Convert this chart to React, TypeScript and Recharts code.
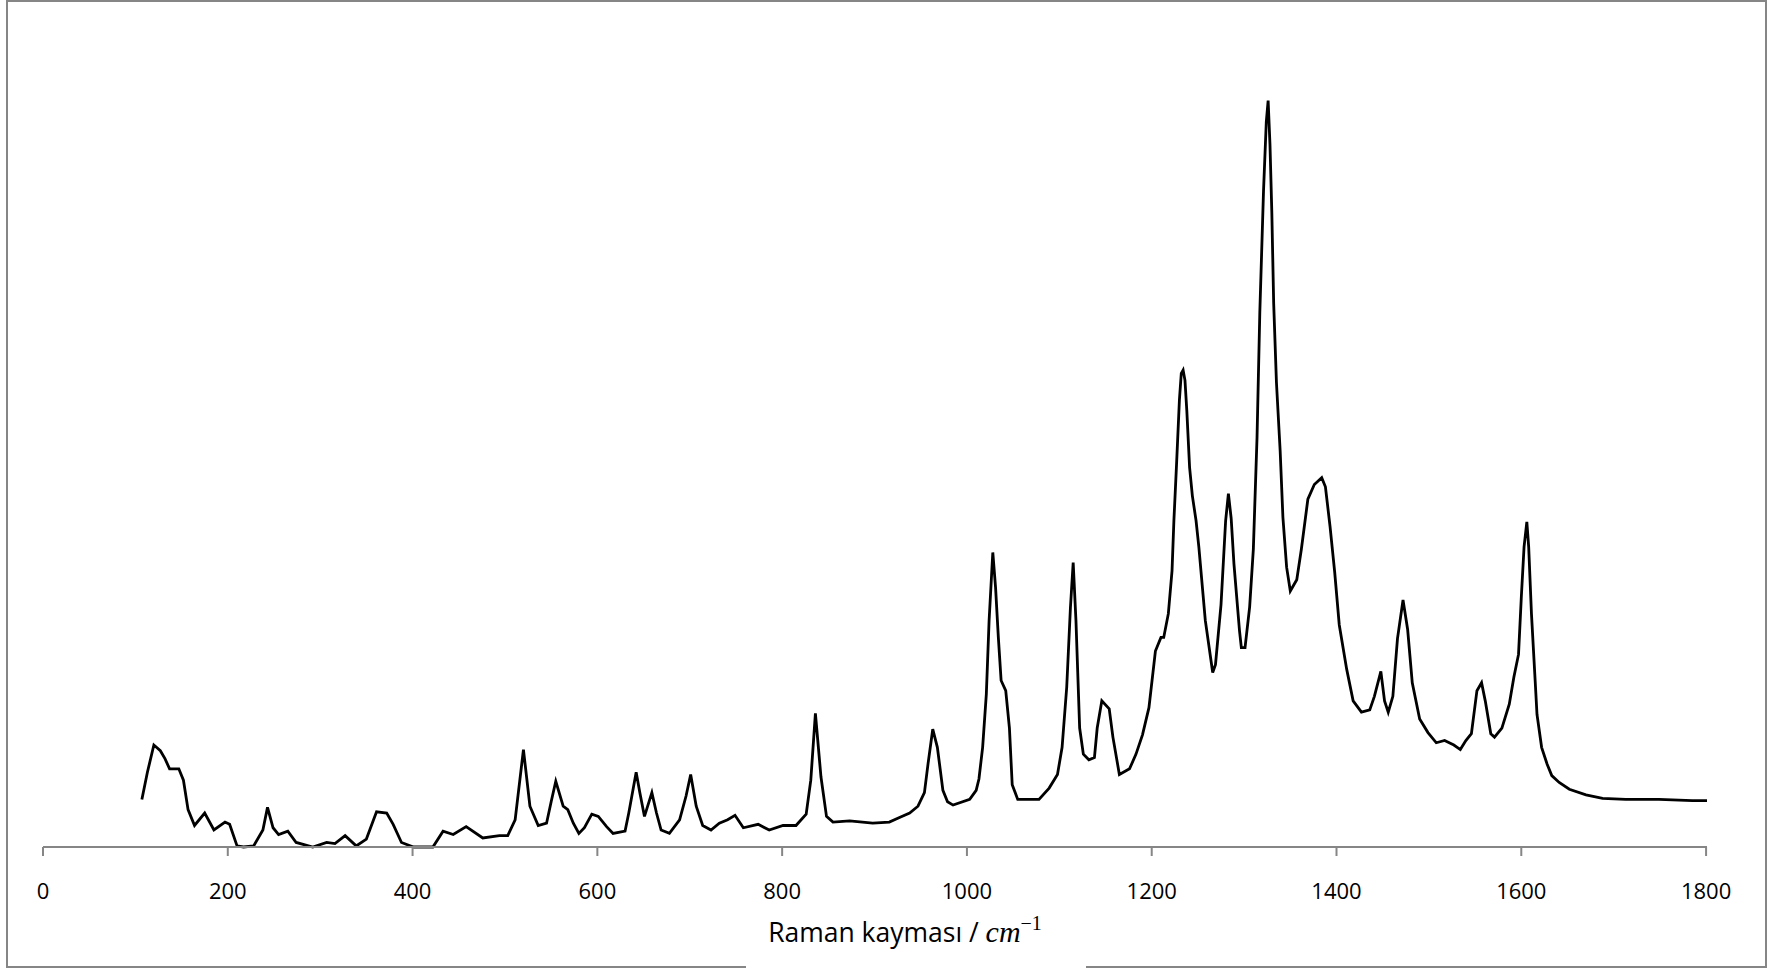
import { LineChart, Line, XAxis, YAxis } from 'recharts'

// Raman shift (cm^-1)
const shift = [
	107, 113, 120, 127, 132, 137, 147, 152, 157, 164, 175, 185, 197, 202, 210, 217, 228, 238, 243, 249,
	255, 265, 274, 292, 307, 316, 327, 339, 350, 361, 372, 379, 388, 401, 413, 422, 433, 444, 458, 476,
	494, 503, 511, 520, 527, 536, 545, 550, 555, 563, 568, 574, 580, 586, 594, 601, 610, 617, 630, 634,
	642, 646, 651, 659, 664, 669, 678, 689, 696, 701, 707, 714, 723, 732, 741, 749, 758, 774, 786, 801,
	815, 826, 831, 836, 842, 848, 855, 873, 898, 916, 927, 938, 947, 954, 958, 963, 968, 974, 979, 985,
	1003, 1010, 1013, 1017, 1021, 1024, 1028, 1031, 1034, 1037, 1042, 1046, 1049, 1055, 1064, 1078, 1089, 1098, 1103, 1108,
	1112, 1115, 1118, 1122, 1126, 1132, 1138, 1141, 1146, 1154, 1158, 1165, 1176, 1183, 1190, 1197, 1204, 1210, 1213, 1218,
	1222, 1224, 1227, 1230, 1232, 1234, 1236, 1238, 1241, 1244, 1248, 1251, 1258, 1266, 1269, 1275, 1280, 1283, 1286, 1289,
	1295, 1297, 1301, 1306, 1310, 1314, 1317, 1321, 1324, 1326, 1328, 1330, 1332, 1335, 1339, 1342, 1346, 1350, 1357, 1362,
	1369, 1376, 1384, 1388, 1393, 1398, 1403, 1411, 1418, 1427, 1436, 1441, 1448, 1452, 1456, 1461, 1466, 1472, 1477, 1482,
	1490, 1499, 1508, 1517, 1527, 1534, 1540, 1546, 1552, 1557, 1561, 1567, 1571, 1579, 1587, 1592, 1597, 1600, 1603, 1606,
	1608, 1611, 1615, 1617, 1622, 1628, 1633, 1641, 1652, 1670, 1688, 1713, 1749, 1785, 1801,
]

// intensity, arbitrary units (baseline at 0)
const intensity = [
	42, 66, 90, 85, 78, 69, 69, 59, 33, 19, 30, 15, 22, 20, 1, 0, 1, 15, 35, 17,
	11, 14, 4, 0, 4, 3, 10, 1, 7, 31, 30, 20, 4, 0, 0, 0, 14, 11, 18, 8,
	10, 10, 24, 86, 36, 19, 21, 40, 58, 36, 33, 21, 12, 17, 29, 27, 18, 12, 14, 30,
	66, 48, 27, 48, 30, 15, 12, 24, 45, 64, 36, 19, 15, 21, 24, 28, 17, 20, 15, 19,
	19, 29, 59, 118, 62, 27, 22, 23, 21, 22, 26, 30, 36, 48, 74, 104, 88, 50, 40, 37,
	42, 50, 60, 88, 135, 200, 260, 229, 185, 147, 138, 105, 55, 42, 42, 42, 52, 64, 88, 141,
	211, 251, 200, 105, 82, 77, 79, 105, 129, 122, 97, 64, 69, 82, 99, 123, 173, 185, 185, 206,
	244, 288, 340, 395, 418, 421, 412, 385, 335, 310, 288, 265, 200, 154, 161, 214, 288, 312, 290, 250,
	191, 176, 176, 212, 263, 362, 472, 579, 640, 659, 620, 560, 480, 410, 350, 291, 247, 226, 236, 263,
	307, 320, 326, 318, 283, 243, 196, 157, 129, 119, 121, 133, 155, 129, 119, 133, 184, 218, 192, 145,
	113, 101, 92, 94, 90, 86, 94, 100, 138, 145, 129, 100, 97, 105, 126, 150, 170, 220, 265, 287,
	265, 206, 147, 117, 88, 73, 63, 57, 51, 46, 43, 42, 42, 41, 41,
]

const xTicks = [0, 200, 400, 600, 800, 1000, 1200, 1400, 1600, 1800]
const titleText = 'Raman kayması / '
const unitText = 'cm'
const unitPower = '−1'

const data = shift.map((s, i) => ({ shift: s, intensity: intensity[i] }))

const axisGray = '#868686'

const AxisTitle = (props: any) => {
	const vb = props.viewBox || { x: 0, y: 0, width: 0, height: 0 }
	const cx = vb.x + vb.width / 2 + 30
	return (
		<text x={cx} y={vb.y + 95} textAnchor='middle' fill='#000' fontFamily='Open Sans' fontSize={26.5}>
			{titleText}
			<tspan fontFamily='Liberation Serif' fontStyle='italic' fontSize={30}>
				{unitText}
			</tspan>
			<tspan fontFamily='Liberation Serif' fontSize={20} dy={-12}>
				{unitPower}
			</tspan>
		</text>
	)
}

const App = () => {
	return (
		<div style={{ position: 'absolute', left: 0, top: 0, width: 1773, height: 970, background: '#fff' }}>
			<div
				style={{
					position: 'absolute',
					left: 6,
					top: 0,
					width: 1761,
					height: 968,
					border: `2px solid ${axisGray}`,
					boxSizing: 'border-box',
				}}
			/>
			<div style={{ position: 'absolute', left: 746, top: 963, width: 340, height: 7, background: '#fff' }} />
			<div style={{ position: 'absolute', left: 0, top: 0 }}>
				<LineChart width={1773} height={970} data={data} margin={{ top: 28, right: 66, left: 43, bottom: 0 }}>
					<XAxis
						dataKey='shift'
						type='number'
						domain={[0, 1800]}
						ticks={xTicks}
						interval={0}
						height={123}
						axisLine={{ stroke: axisGray, strokeWidth: 2 }}
						tickLine={{ stroke: axisGray, strokeWidth: 2 }}
						tickSize={9}
						tickMargin={27}
						tick={{ fill: '#000', fontSize: 22, fontFamily: 'Open Sans' }}
						label={<AxisTitle />}
					/>
					<YAxis
						width={0}
						domain={[0, 723]}
						tick={false}
						tickLine={false}
						axisLine={{ stroke: axisGray, strokeWidth: 2 }}
					/>
					<Line
						type='linear'
						dataKey='intensity'
						stroke='#000'
						strokeWidth={2.8}
						dot={false}
						isAnimationActive={false}
					/>
				</LineChart>
			</div>
		</div>
	)
}

export default App
